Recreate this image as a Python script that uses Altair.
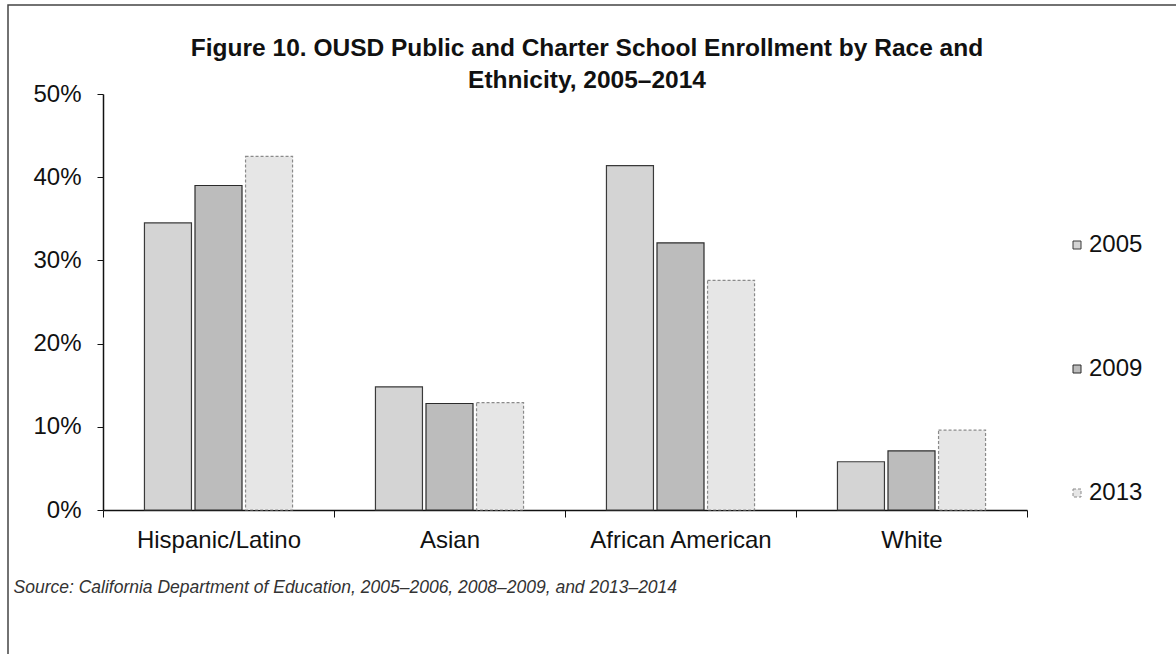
import altair as alt
import pandas as pd

# Enrollment share (percent of OUSD public + charter students) by group and year
categories = ["Hispanic/Latino", "Asian", "African American", "White"]
years = ["2005", "2009", "2013"]
pct_2005 = [34.5, 14.8, 41.4, 5.8]
pct_2009 = [39.0, 12.8, 32.1, 7.1]
pct_2013 = [42.5, 12.9, 27.6, 9.6]

fill_colors = ["#d4d4d4", "#bcbcbc", "#e6e6e6"]
edge_colors = ["#3a3a3a", "#2a2a2a", "#8a8a8a"]
edge_dashes = [[1, 0], [1, 0], [3, 2]]

FONT = "Liberation Sans"

rows = []
for year, values in zip(years, [pct_2005, pct_2009, pct_2013]):
    for cat, v in zip(categories, values):
        rows.append({"group": cat, "year": year, "share": v / 100.0})
df = pd.DataFrame(rows)

bars = alt.Chart(df).mark_bar(strokeWidth=1.2).encode(
    x=alt.X(
        "group:N",
        sort=categories,
        scale=alt.Scale(paddingInner=0, paddingOuter=0),
        axis=alt.Axis(
            title="Source: California Department of Education, 2005–2006, 2008–2009, and 2013–2014",
            titleFont=FONT,
            titleFontSize=17.5,
            titleFontStyle="italic",
            titleFontWeight="normal",
            titleColor="#333333",
            titleAnchor="start",
            titleAlign="left",
            titleBaseline="alphabetic",
            titleX=-90,
            titleY=82,
            titleLimit=0,
            labelFont=FONT,
            labelFontSize=24,
            labelColor="#111111",
            labelPadding=11,
            labelAngle=0,
            labelLimit=0,
            tickBand="extent",
            tickSize=7,
            tickColor="#111111",
            domainColor="#111111",
            domainWidth=1.5,
            grid=False,
        ),
    ),
    xOffset=alt.XOffset(
        "year:N",
        sort=years,
        scale=alt.Scale(paddingInner=0.07, paddingOuter=0.82),
    ),
    y=alt.Y(
        "share:Q",
        scale=alt.Scale(domain=[0, 0.5], nice=False),
        axis=alt.Axis(
            title=None,
            values=[0, 0.1, 0.2, 0.3, 0.4, 0.5],
            format=".0%",
            labelFont=FONT,
            labelFontSize=24,
            labelColor="#111111",
            labelPadding=16,
            tickSize=6,
            tickColor="#111111",
            domainColor="#111111",
            domainWidth=1.5,
            grid=False,
        ),
    ),
    fill=alt.Fill(
        "year:N",
        sort=years,
        scale=alt.Scale(domain=years, range=fill_colors),
        legend=alt.Legend(
            title=None,
            orient="none",
            legendX=962,
            legendY=139,
            padding=0,
            rowPadding=100,
            symbolType="square",
            symbolSize=64,
            symbolStrokeColor="#666666",
            symbolStrokeWidth=1,
            labelFont=FONT,
            labelFontSize=24,
            labelColor="#111111",
            labelOffset=0,
        ),
    ),
    stroke=alt.Stroke(
        "year:N", scale=alt.Scale(domain=years, range=edge_colors), legend=None
    ),
    strokeDash=alt.StrokeDash(
        "year:N", scale=alt.Scale(domain=years, range=edge_dashes), legend=None
    ),
)

# Thin frame around the figure
frame = alt.Chart(pd.DataFrame({"f": [0]})).mark_rect(
    filled=False, stroke="#444444", strokeWidth=1.5
).encode(
    x=alt.value(-95),
    x2=alt.value(1200),
    y=alt.value(-89),
    y2=alt.value(700),
)

chart = (
    alt.layer(frame, bars)
    .properties(
        width=924,
        height=416,
        title=alt.TitleParams(
            text=[
                "Figure 10. OUSD Public and Charter School Enrollment by Race and",
                "Ethnicity, 2005–2014",
            ],
            font=FONT,
            fontSize=24.5,
            fontWeight="bold",
            color="#111111",
            anchor="middle",
            lineHeight=32,
            offset=4,
            dx=22,
            dy=93,
        ),
        autosize=alt.AutoSizeParams(type="none"),
        padding={"left": 103, "top": 94, "right": 149, "bottom": 144},
    )
    .configure(background="white", view=alt.ViewConfig(stroke=None))
)

chart.save("out.html", embed_options={"renderer": "svg", "actions": False})
